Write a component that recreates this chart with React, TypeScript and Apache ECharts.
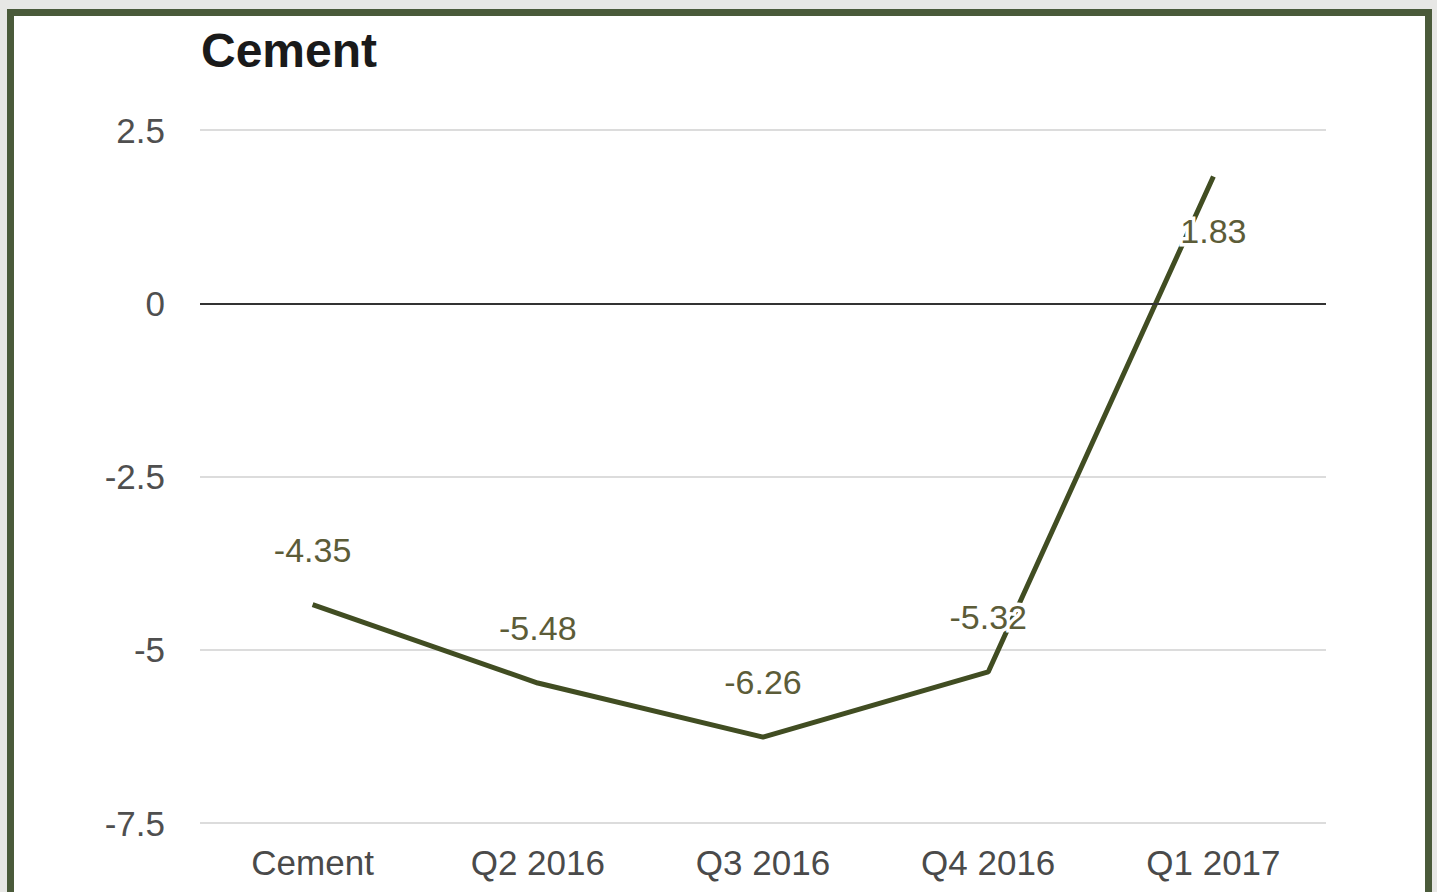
import React, { useEffect, useRef } from "react";
import * as echarts from "echarts";

const title = "Cement";
const categories = ["Cement", "Q2 2016", "Q3 2016", "Q4 2016", "Q1 2017"];
const values = [-4.35, -5.48, -6.26, -5.32, 1.83];
const labelBelow = [false, false, false, false, true];

export default function App() {
  const ref = useRef<HTMLDivElement>(null);
  useEffect(() => {
    if (!ref.current) return;
    const chart = echarts.init(ref.current, undefined, { renderer: "svg" });
    const font = "'Liberation Sans', Arial, sans-serif";
    chart.setOption({
      animation: false,
      backgroundColor: "transparent",
      title: {
        text: title,
        left: 196,
        top: 21,
        textStyle: { fontFamily: font, fontSize: 48, fontWeight: "bold", color: "#1a1a1a" },
      },
      grid: { left: 200, right: 111, top: 130, bottom: 69 },
      xAxis: {
        type: "category",
        data: categories,
        boundaryGap: true,
        axisLine: { show: false },
        axisTick: { show: false },
        axisLabel: { fontFamily: font, fontSize: 35, color: "#4a4a4a", margin: 22 },
        splitLine: { show: false },
      },
      yAxis: {
        type: "value",
        min: -7.5,
        max: 2.5,
        interval: 2.5,
        axisLine: { show: false },
        axisTick: { show: false },
        axisLabel: {
          fontFamily: font,
          fontSize: 35,
          color: "#4f4f4f",
          margin: 35,
          formatter: (v: number) => String(v),
        },
        splitLine: { lineStyle: { color: "#dcdcdc", width: 2 } },
      },
      series: [
        {
          type: "line",
          data: values.map((v, i) => ({
            value: v,
            label: { position: labelBelow[i] ? "bottom" : "top" },
          })),
          symbol: "circle",
          symbolSize: 2,
          showSymbol: true,
          itemStyle: { color: "rgba(0,0,0,0)", borderWidth: 0 },
          lineStyle: { color: "#414d22", width: 5 },
          label: {
            show: true,
            distance: 37,
            fontFamily: font,
            fontSize: 34,
            color: "#5c5c38",
            opacity: 1,
            textBorderColor: "#ffffff",
            textBorderWidth: 7,
            formatter: (p: any) => p.value.toFixed(2),
          },
          markLine: {
            silent: true,
            symbol: "none",
            label: { show: false },
            lineStyle: { color: "#333333", width: 2, type: "solid" },
            data: [{ yAxis: 0 }],
          },
          z: 3,
        },
      ],
    });
    return () => chart.dispose();
  }, []);
  return (
    <div style={{ position: "fixed", left: 0, top: 0, width: 1437, height: 892, background: "#e7e7e5", overflow: "hidden" }}>
      <div
        style={{
          position: "absolute",
          left: 7,
          top: 9,
          width: 1425,
          height: 900,
          border: "7px solid #4a5a3a",
          borderBottom: "none",
          background: "#ffffff",
          boxSizing: "border-box",
        }}
      />
      <div ref={ref} style={{ position: "absolute", left: 0, top: 0, width: 1437, height: 892 }} />
    </div>
  );
}
